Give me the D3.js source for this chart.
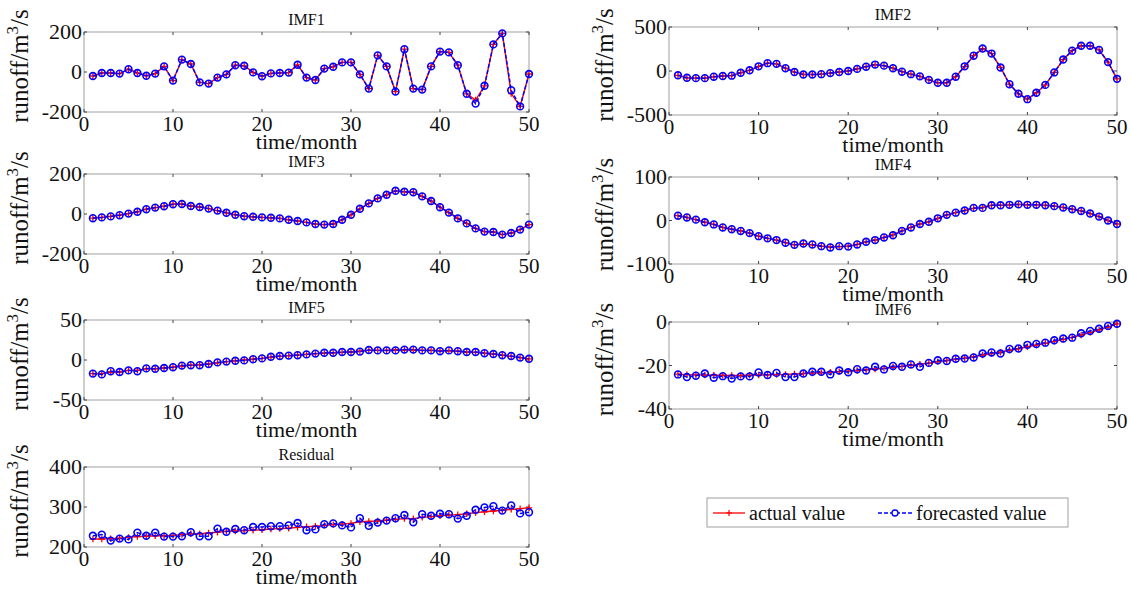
<!DOCTYPE html>
<html>
<head>
<meta charset="utf-8">
<script src="https://cdn.jsdelivr.net/npm/d3@7"></script>
<style>
  body { margin: 0; background: #fff; }
</style>
</head>
<body>
<div id="chart"></div>
<script>
// months on the x axis
const months = d3.range(1, 51);
const xTicks = [0, 10, 20, 30, 40, 50];

const titles = ["IMF1", "IMF2", "IMF3", "IMF4", "IMF5", "IMF6", "Residual"];

// values
const imf1Forecast = [-20, -5, -5, -8, 14, -5, -19, -8, 28, -43, 62, 40, -52, -58, -28, -12, 34, 31, -2, -21,
  -7, -5, -3, 36, -28, -40, 17, 26, 48, 48, -12, -83, 83, 28, -98, 114, -83, -88, 28, 102,
  98, 34, -109, -158, -69, 138, 193, -91, -172, -10];
const imf1Actual = [-20, -5, -5, -8, 14, -5, -19, -8, 28, -43, 62, 40, -52, -58, -28, -12, 34, 31, -2, -21,
  -7, -5, -3, 36, -28, -40, 17, 26, 48, 48, -12, -83, 83, 28, -98, 114, -83, -88, 28, 102,
  98, 34, -109, -140, -69, 138, 193, -108, -172, -10];

const imf2Forecast = [-49, -77, -81, -81, -65, -57, -53, -20, 8, 53, 89, 81, 32, -12, -40, -40, -36, -24, -12, 0,
  24, 49, 73, 61, 32, -8, -36, -61, -101, -134, -134, -65, 53, 174, 255, 198, 40, -150, -259, -320,
  -247, -158, -16, 130, 231, 287, 287, 239, 101, -89];
const imf2Actual = [-49, -77, -81, -81, -65, -57, -53, -20, 8, 53, 89, 81, 32, -12, -40, -40, -36, -24, -12, 0,
  24, 49, 73, 61, 32, -8, -36, -61, -101, -134, -134, -65, 50, 174, 255, 198, 40, -150, -259, -320,
  -247, -158, -16, 130, 231, 287, 287, 239, 101, -89];

const imf3Forecast = [-21, -17, -12, -6, 2, 11, 24, 32, 39, 49, 50, 40, 35, 27, 17, 6, -4, -11, -14, -17,
  -19, -22, -29, -35, -42, -50, -53, -50, -29, -4, 26, 53, 78, 96, 116, 111, 109, 88, 65, 34,
  7, -22, -47, -72, -88, -90, -103, -95, -78, -53];
const imf3Actual = [-21, -17, -12, -6, 2, 11, 24, 32, 39, 49, 50, 40, 35, 27, 17, 6, -4, -11, -14, -17,
  -19, -22, -29, -35, -42, -50, -53, -50, -29, -4, 26, 53, 78, 96, 116, 111, 109, 88, 65, 34,
  7, -22, -47, -72, -88, -90, -103, -95, -78, -53];

const imf4Forecast = [11, 7, 2, -4, -9, -16, -20, -24, -29, -36, -41, -45, -51, -56, -53, -55, -59, -62, -59, -60,
  -55, -49, -45, -39, -34, -24, -16, -8, -3, 5, 13, 18, 23, 29, 29, 35, 35, 36, 37, 36,
  36, 35, 33, 30, 26, 22, 16, 9, 0, -8];
const imf4Actual = [11, 7, 2, -4, -9, -16, -20, -24, -29, -36, -41, -45, -51, -56, -54, -56, -59, -61, -60, -59,
  -55, -49, -45, -39, -33, -24, -16, -8, -3, 5, 13, 18, 23, 28, 30, 35, 35, 36, 37, 36,
  36, 35, 33, 30, 26, 22, 16, 9, 0, -8];

const imf5Forecast = [-17, -18, -14, -15, -13, -14, -10.5, -11, -10, -9, -7, -6.5, -6.5, -5, -3, -2, -1, -0.5, 1, 2,
  4, 5, 5.5, 6, 7, 8, 9, 9, 10, 10, 10.5, 12.5, 12, 12, 12, 13, 13, 12, 12, 11,
  12, 11, 10, 10, 8.5, 7.5, 6, 5, 3, 1.5];
const imf5Actual = [-17, -17, -15, -15, -13, -13, -11, -11, -10, -9, -7.5, -6.5, -6, -5, -3.5, -2, -1, 0, 1, 2,
  3.5, 4.5, 5.5, 6, 7, 8, 8.5, 9, 9.5, 10, 11, 12, 12, 12, 12.5, 12.5, 12.5, 12, 12, 11.5,
  11.5, 11, 10, 9.5, 8.5, 7.5, 6, 4.5, 3, 1.5];

const imf6Forecast = [-24.1, -25.3, -24.7, -23.7, -25.6, -24.9, -26.0, -25.0, -25.0, -23.2, -24.4, -23.4, -25.3, -25.3, -23.7, -22.9, -22.9, -24.1, -22.3, -23.1,
  -21.7, -22.3, -20.6, -21.8, -20.2, -20.6, -19.5, -20.6, -18.8, -17.6, -17.9, -16.9, -16.8, -16.3, -14.5, -14.0, -14.5, -12.4, -12.2, -10.5,
  -10.1, -9.5, -8.4, -7.6, -7.2, -5.2, -4.1, -3.1, -1.8, -0.8];
const imf6Actual = [-24.0, -24.2, -24.3, -24.4, -24.5, -24.5, -24.6, -24.6, -24.5, -24.4, -24.3, -24.2, -24.1, -23.9, -23.7, -23.5, -23.3, -23.1, -22.8, -22.6,
  -22.3, -22.0, -21.6, -21.3, -20.8, -20.4, -19.9, -19.4, -18.9, -18.2, -17.7, -17.1, -16.6, -16.0, -15.2, -14.5, -13.9, -13.0, -12.3, -11.4,
  -10.6, -9.8, -8.9, -8.0, -7.1, -6.0, -4.9, -3.6, -2.3, -0.9];

const residualForecast = [228, 231, 216, 221, 219, 236, 228, 236, 226, 226, 227, 237, 227, 227, 246, 238, 245, 242, 250, 250,
  252, 252, 254, 260, 242, 244, 257, 259, 254, 249, 272, 253, 261, 266, 272, 280, 262, 282, 278, 283,
  282, 271, 278, 293, 299, 302, 291, 304, 284, 287];
const residualActual = [220, 220, 221, 222, 224, 226, 227, 228, 228, 229, 231, 233, 233, 235, 237, 239, 240, 241, 242, 243,
  245, 246, 247, 249, 251, 252, 254, 256, 257, 259, 263, 264, 265, 267, 269, 271, 271, 274, 276, 278,
  280, 281, 283, 286, 288, 290, 292, 294, 296, 298];

const yDomains = [[-200, 200], [-500, 500], [-200, 200], [-100, 100], [-50, 50], [-40, 0], [200, 400]];
const yTicks = [[-200, 0, 200], [-500, 0, 500], [-200, 0, 200], [-100, 0, 100], [-50, 0, 50], [-40, -20, 0], [200, 300, 400]];

const actualSeries = [imf1Actual, imf2Actual, imf3Actual, imf4Actual, imf5Actual, imf6Actual, residualActual];
const forecastSeries = [imf1Forecast, imf2Forecast, imf3Forecast, imf4Forecast, imf5Forecast, imf6Forecast, residualForecast];

// panel boxes (pixels)
const boxes = [
  {x: 84, y: 32, w: 445, h: 80},
  {x: 669, y: 27, w: 448, h: 88},
  {x: 84, y: 174, w: 445, h: 80},
  {x: 669, y: 177, w: 448, h: 87},
  {x: 84, y: 320, w: 445, h: 80},
  {x: 669, y: 322, w: 448, h: 87},
  {x: 84, y: 467, w: 445, h: 80}
];

const FONT = "'Liberation Serif', 'Times New Roman', 'DejaVu Serif', serif";

const svg = d3.select("#chart").append("svg")
  .attr("width", 1131)
  .attr("height", 595)
  .attr("font-family", FONT)
  .style("display", "block");

svg.append("rect").attr("width", 1131).attr("height", 595).attr("fill", "#fff");

const RED = "#ff0000", BLUE = "#0000ff";

titles.forEach((title, i) => {
  const b = boxes[i];
  const x = d3.scaleLinear().domain([0, 50]).range([b.x, b.x + b.w]);
  const y = d3.scaleLinear().domain(yDomains[i]).range([b.y + b.h, b.y]);
  const g = svg.append("g").attr("fill", "#111");

  // box
  g.append("rect")
    .attr("x", b.x).attr("y", b.y).attr("width", b.w).attr("height", b.h)
    .attr("fill", "#fff").attr("stroke", "#a0a0a0").attr("stroke-width", 1);

  // inward ticks
  const tl = 3;
  xTicks.forEach(t => {
    g.append("line").attr("x1", x(t)).attr("x2", x(t)).attr("y1", b.y + b.h).attr("y2", b.y + b.h - tl)
      .attr("stroke", "#444");
    g.append("line").attr("x1", x(t)).attr("x2", x(t)).attr("y1", b.y).attr("y2", b.y + tl)
      .attr("stroke", "#444");
  });
  yTicks[i].forEach(t => {
    g.append("line").attr("x1", b.x).attr("x2", b.x + tl).attr("y1", y(t)).attr("y2", y(t))
      .attr("stroke", "#444");
    g.append("line").attr("x1", b.x + b.w).attr("x2", b.x + b.w - tl).attr("y1", y(t)).attr("y2", y(t))
      .attr("stroke", "#444");
  });

  // tick labels
  g.selectAll(".xt").data(xTicks).enter().append("text")
    .attr("x", d => x(d)).attr("y", b.y + b.h + 19)
    .attr("text-anchor", "middle").style("font-size", "21px")
    .text(d => d);
  g.selectAll(".yt").data(yTicks[i]).enter().append("text")
    .attr("x", b.x - 2).attr("y", d => y(d) + 7)
    .attr("text-anchor", "end").style("font-size", "22px")
    .text(d => d);

  // titles and axis labels
  g.append("text").attr("x", b.x + b.w / 2).attr("y", b.y - 7)
    .attr("text-anchor", "middle").style("font-size", "16px").text(title);
  g.append("text").attr("x", b.x + b.w / 2).attr("y", b.y + b.h + 37)
    .attr("text-anchor", "middle").style("font-size", "22px").text("time/month");

  const yl = g.append("text")
    .attr("transform", `translate(${b.x - 56},${b.y + b.h / 2 - 6}) rotate(-90)`)
    .attr("text-anchor", "middle").style("font-size", "25px");
  yl.append("tspan").text("runoff/m");
  yl.append("tspan").attr("dy", -10).style("font-size", "17px").text("3");
  yl.append("tspan").attr("dy", 10).text("/s");

  // actual value: red solid with + markers
  const line = d3.line().x((d, k) => x(months[k])).y(d => y(d));
  g.append("path").datum(actualSeries[i])
    .attr("d", line).attr("fill", "none").attr("stroke", RED).attr("stroke-width", 1.4);
  g.append("g").selectAll("path").data(actualSeries[i]).enter().append("path")
    .attr("d", (d, k) => {
      const px = x(months[k]), py = y(d), s = 3.2;
      return `M${px - s},${py}h${2 * s}M${px},${py - s}v${2 * s}`;
    })
    .attr("stroke", RED).attr("stroke-width", 1.3);

  // forecasted value: blue dashed with o markers
  g.append("path").datum(forecastSeries[i])
    .attr("d", line).attr("fill", "none").attr("stroke", BLUE).attr("stroke-width", 1.5)
    .attr("stroke-dasharray", "4,2");
  g.append("g").selectAll("circle").data(forecastSeries[i]).enter().append("circle")
    .attr("cx", (d, k) => x(months[k])).attr("cy", d => y(d)).attr("r", 3.4)
    .attr("fill", "none").attr("stroke", BLUE).attr("stroke-width", 1.6);
});

// legend
const lg = svg.append("g").attr("fill", "#111");
lg.append("rect").attr("x", 707).attr("y", 498).attr("width", 361).attr("height", 29)
  .attr("fill", "#fff").attr("stroke", "#a0a0a0");
lg.append("line").attr("x1", 713).attr("x2", 745).attr("y1", 513).attr("y2", 513)
  .attr("stroke", RED).attr("stroke-width", 1.3);
lg.append("path").attr("d", "M726,513h6M729,510v6").attr("stroke", RED).attr("stroke-width", 1.2);
lg.append("text").attr("x", 749).attr("y", 520).style("font-size", "20px").text("actual value");
lg.append("line").attr("x1", 878).attr("x2", 912).attr("y1", 513).attr("y2", 513)
  .attr("stroke", BLUE).attr("stroke-width", 1.3).attr("stroke-dasharray", "4,2");
lg.append("circle").attr("cx", 895).attr("cy", 513).attr("r", 3)
  .attr("fill", "#fff").attr("stroke", BLUE).attr("stroke-width", 1.3);
lg.append("text").attr("x", 916).attr("y", 520).style("font-size", "20px").text("forecasted value");
</script>
</body>
</html>
